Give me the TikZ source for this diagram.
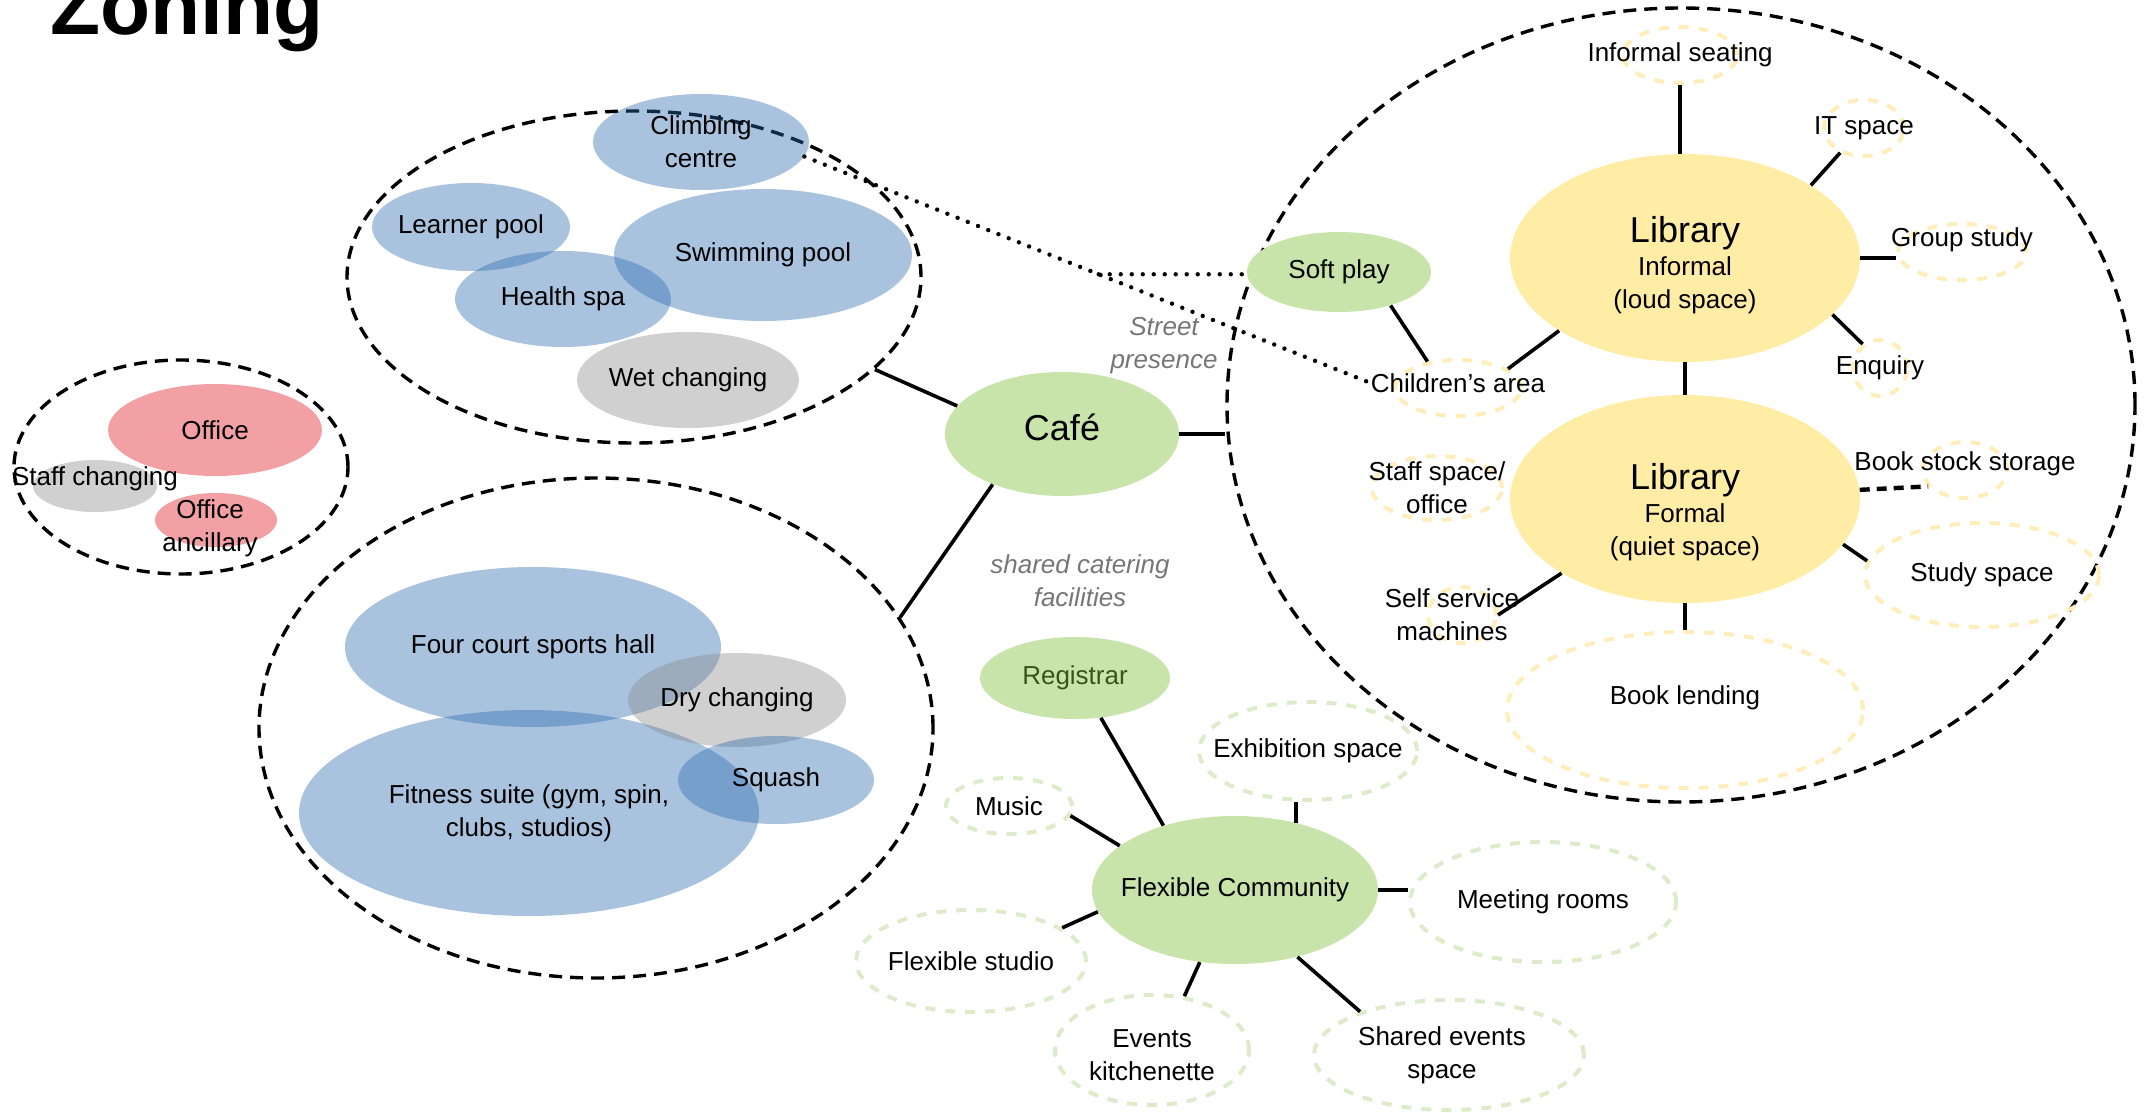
\documentclass[tikz,border=0pt]{standalone}
\usepackage{fontspec}
\setmainfont{Liberation Sans}
\usetikzlibrary{shapes.geometric}
\usetikzlibrary{calc}
\definecolor{blobblue}{RGB}{40,105,175}
\definecolor{blobgrey}{RGB}{137,137,137}
\definecolor{blobpink}{RGB}{225,18,30}
\definecolor{libyellow}{RGB}{255,237,166}
\definecolor{hubgreen}{RGB}{200,228,171}
\definecolor{dashyellow}{RGB}{255,237,186}
\definecolor{dashgreen}{RGB}{220,235,202}
\definecolor{notegrey}{RGB}{118,118,118}
\definecolor{regtext}{RGB}{55,85,25}
\tikzset{
  every node/.style={font=\fontsize{13}{16.5}\selectfont},
  every label/.append style={align=center, inner sep=0pt, text opacity=1},
  ell/.style 2 args={minimum width=#1pt, minimum height=#2pt},
  zone/.style={ellipse, inner sep=0pt, draw, line width=1.7pt, dash pattern=on 6.5pt off 4pt},
  room/.style={ellipse, inner sep=0pt, fill=#1, fill opacity=0.4},
  hub/.style={ellipse, inner sep=0pt, fill=#1},
  sub/.style={ellipse, inner sep=0pt, draw=#1, line width=2pt, dash pattern=on 5pt off 5pt},
  link/.style={line width=1.8pt},
  street/.style={line width=2.2pt, line cap=round, dash pattern=on 0pt off 5.5pt},
  note/.style={text=notegrey, font=\fontsize{13}{16.5}\selectfont\itshape, align=center, inner sep=0pt}
}

\begin{document}
\begin{tikzpicture}[x=0.5pt, y=-0.5pt]
	\useasboundingbox (0,0) rectangle (2152,1113);
	\clip (0,0) rectangle (2152,1113);
	\node[anchor=base west, inner sep=0pt, font=\fontsize{41}{41}\selectfont\bfseries] (title) at (50,35) {Zoning};
	%
	% zones
	\node[zone, ell={287}{166}] (aqua) at (634,277) {};
	\node[zone, ell={167}{107}] (admin) at (181,467) {};
	\node[zone, ell={337}{250}] (sport) at (596,728) {};
	\node[zone, ell={454}{397}] (lib) at (1681,405) {};
	%
	% wet side
	\node[room=blobblue, ell={108}{48}, label=center:Climbing\\centre] (climb) at (701,142) {};
	\node[room=blobblue, ell={99}{44}, label=center:Learner pool] (learner) at (471,227) {};
	\node[room=blobblue, ell={149}{66}, label=center:Swimming pool] (swim) at (763,255) {};
	\node[room=blobblue, ell={108}{48}, label=center:Health spa] (spa) at (563,299) {};
	\node[room=blobgrey, ell={111}{48}, label=center:Wet changing] (wet) at (688,380) {};
	%
	% offices
	\node[room=blobpink, ell={107}{46}, label=center:Office] (office) at (215,430) {};
	\node[room=blobgrey, ell={62}{26}, label={[yshift=3.5pt]center:Staff changing}] (staffch) at (95,486) {};
	\node[room=blobpink, ell={61}{27}, label={[xshift=-3pt, yshift=-4pt]center:Office\\ancillary}] (ancil) at (216,520) {};
	%
	% dry side
	\node[room=blobblue, ell={188}{80}, label=center:Four court sports hall] (hall) at (533,647) {};
	\node[room=blobblue, ell={230}{103}, label={center:Fitness suite (gym, spin,\\clubs, studios)}] (fit) at (529,813) {};
	\node[room=blobgrey, ell={109}{47}, label=center:Dry changing] (dry) at (737,700) {};
	\node[room=blobblue, ell={98}{44}, label=center:Squash] (squash) at (776,780) {};
	%
	% hubs
	\node[hub=hubgreen, ell={117}{62}, label={[yshift=3.5pt, font=\fontsize{18}{20}\selectfont]center:Café}] (cafe) at (1062,434) {};
	\node[hub=hubgreen, ell={92}{40}, label=center:Soft play] (soft) at (1339,272) {};
	\node[hub=hubgreen, ell={95}{41}, label={[text=regtext]center:Registrar}] (reg) at (1075,678) {};
	\node[hub=hubgreen, ell={143}{74}, label=center:Flexible Community] (flex) at (1235,890) {};
	\node[hub=libyellow, ell={175}{104}, label={[yshift=-3.5pt]center:{\fontsize{18}{20}\selectfont Library}\\Informal\\(loud space)}] (libinf) at (1685,258) {};
	\node[hub=libyellow, ell={175}{104}, label={[yshift=-6.5pt]center:{\fontsize{18}{20}\selectfont Library}\\Formal\\(quiet space)}] (libfor) at (1685,499) {};
	%
	% library spaces
	\node[sub=dashyellow, ell={57}{28}, label=center:Informal seating] (seat) at (1680,55) {};
	\node[sub=dashyellow, ell={40}{28}, label=center:IT space] (itsp) at (1864,128) {};
	\node[sub=dashyellow, ell={64}{28}, label={[yshift=6pt]center:Group study}] (group) at (1962,252) {};
	\node[sub=dashyellow, ell={27}{28}, label=center:Enquiry] (enq) at (1880,368) {};
	\node[sub=dashyellow, ell={63}{28}, label={[name=childtxt, yshift=2.5pt]center:Children’s area}] (child) at (1458,388) {};
	\node[sub=dashyellow, ell={65}{32}, label=center:Staff space/\\office] (staffsp) at (1437,488) {};
	\node[sub=dashyellow, ell={42}{28}, label={[yshift=3pt]center:Book stock storage}] (stock) at (1965,470) {};
	\node[sub=dashyellow, ell={117}{52}, label=center:Study space] (study) at (1982,575) {};
	\node[sub=dashyellow, ell={34}{28}, label={[xshift=-5pt]center:Self service\\machines}] (self) at (1462,615) {};
	\node[sub=dashyellow, ell={178}{78}, label={[yshift=6pt]center:Book lending}] (lend) at (1685,710) {};
	%
	% community spaces
	\node[sub=dashgreen, ell={109}{49}, label=center:Exhibition space] (exhib) at (1308,751) {};
	\node[sub=dashgreen, ell={63}{28}, label=center:Music] (music) at (1009,806) {};
	\node[sub=dashgreen, ell={133}{60}, label=center:Meeting rooms] (meet) at (1543,902) {};
	\node[sub=dashgreen, ell={115}{51}, label=center:Flexible studio] (studio) at (971,961) {};
	\node[sub=dashgreen, ell={97}{55}, label={[yshift=-2.5pt]center:Events\\kitchenette}] (kitch) at (1152,1050) {};
	\node[sub=dashgreen, ell={135}{55}, label={[xshift=-3.5pt]center:Shared events\\space}] (shared) at (1449,1055) {};
	%
	\node[note] (street) at (1164,346) {Street\\presence};
	\node[note] (catering) at (1080,581) {shared catering\\facilities};
	%
	% links
	\draw[link] (aqua.-21) -- (cafe.165);
	\draw[link] (cafe.east) -- (cafe.east -| lib.west);
	\draw[link] (cafe.216) -- (sport.20);
	\coordinate (jn) at ($(climb.-8)!0.52!(childtxt.west)$);
	\draw[street] (climb.-8) -- (childtxt.west);
	\draw[street] (jn) -- (jn -| soft.west);
	%
	\draw[link] (seat.south) -- (seat.south |- libinf.north);
	\draw[link] (itsp.226) -- (libinf.30);
	\draw[link, line width=2.4pt] (libinf.east) -- (libinf.east -| group.west);
	\draw[link] (libinf.-21) -- (enq.126);
	\draw[link] (soft.-33) -- (child.139);
	\draw[link] (child.21) -- (libinf.210);
	\draw[link] (libinf.south) -- (libfor.north);
	\draw[link, line width=2.2pt, dash pattern=on 5pt off 3.5pt] (libfor.3) -- (stock.204);
	\draw[link] (libfor.-16) -- (study.173);
	\draw[link] (libfor.211) -- (self.0);
	\draw[link] (libfor.south) -- (lend.north);
	%
	\draw[link] (reg.-57) -- (flex.138);
	\draw[link] (flex.48) -- (flex.48 |- exhib.south);
	\draw[link] (music.-9) -- (flex.159);
	\draw[link, line width=2.4pt] (flex.east) -- (flex.east -| meet.west);
	\draw[link] (flex.189) -- (studio.20);
	\draw[link] (flex.244) -- (kitch.59);
	\draw[link] (flex.-47) -- (shared.154);
\end{tikzpicture}
\end{document}
